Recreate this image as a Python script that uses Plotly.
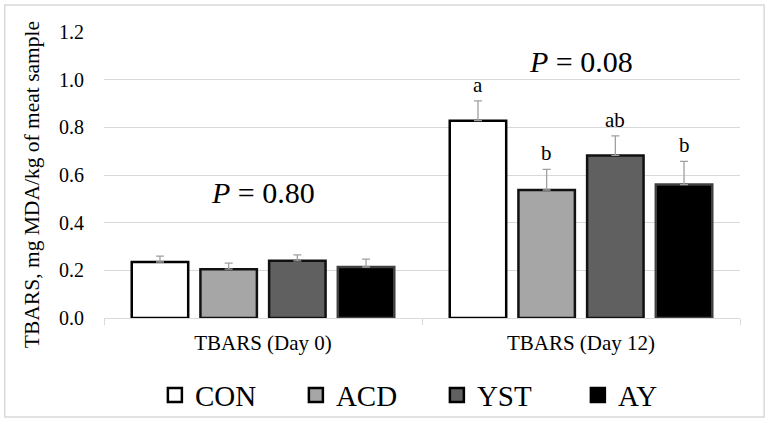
import plotly.graph_objects as go

# data
categories = ["TBARS (Day 0)", "TBARS (Day 12)"]
groups = ["CON", "ACD", "YST", "AY"]
con = [0.235, 0.828]
acd = [0.205, 0.537]
yst = [0.240, 0.682]
ay = [0.214, 0.560]
con_err = [0.025, 0.083]
acd_err = [0.025, 0.087]
yst_err = [0.025, 0.082]
ay_err = [0.033, 0.097]
letters_day12 = ["a", "b", "ab", "b"]
p_values = ["0.80", "0.08"]
p_heights = [0.525, 1.075]

values = [con, acd, yst, ay]
errors = [con_err, acd_err, yst_err, ay_err]
fills = ["#ffffff", "#a6a6a6", "#606060", "#000000"]
outlines = ["#000000", "#111111", "#111111", "#404040"]

FONT = "Liberation Serif"
BARGAP = 0.136
GROUPGAP = 0.178

fig = go.Figure()
for name, vals, errs, fc, lc in zip(groups, values, errors, fills, outlines):
    fig.add_trace(go.Bar(
        name=name, x=categories, y=vals, showlegend=False,
        marker=dict(color=fc, line=dict(color=lc, width=2.5)),
        error_y=dict(type="data", array=errs, arrayminus=[0] * len(errs),
                     symmetric=False, visible=True,
                     color="#a0a0a0", thickness=1.3, width=4),
    ))
# legend entries with larger square keys
for name, fc in zip(groups, fills):
    fig.add_trace(go.Scatter(
        name=name, x=[None], y=[None], mode="markers",
        marker=dict(symbol="square", size=14, color=fc,
                    line=dict(color="#000000", width=2.5)),
    ))

# significance letters above the Day 12 error bars
slot = (1 - BARGAP) / len(groups)
for i, lab in enumerate(letters_day12):
    fig.add_annotation(
        x=1 + (i - 1.5) * slot, y=values[i][1] + errors[i][1],
        xref="x", yref="y", text=lab, showarrow=False,
        yanchor="bottom", yshift=2,
        font=dict(family=FONT, size=21, color="#000000"),
    )

# P-value labels
for j, (p, h) in enumerate(zip(p_values, p_heights)):
    fig.add_annotation(
        x=j, y=h, xref="x", yref="y", text="<i>P</i> = " + p,
        showarrow=False, font=dict(family=FONT, size=30, color="#000000"),
    )

# y-axis title
fig.add_annotation(
    x=-0.113, y=0.465, xref="paper", yref="paper",
    xanchor="center", yanchor="middle",
    text="TBARS, mg MDA/kg of meat sample", textangle=-90,
    showarrow=False, font=dict(family=FONT, size=21.5, color="#000000"),
)

# light frame around the whole chart
fig.add_shape(type="rect", xref="paper", yref="paper",
              x0=-0.156, x1=1.038, y0=-0.346, y1=1.094,
              line=dict(color="#d9d9d9", width=1.5), layer="below")

fig.update_layout(
    width=768, height=424,
    margin=dict(l=104, r=28, t=32, b=106, autoexpand=False),
    paper_bgcolor="white", plot_bgcolor="white",
    barmode="group", bargap=BARGAP, bargroupgap=GROUPGAP,
    font=dict(family=FONT, color="#000000"),
    showlegend=True,
    legend=dict(orientation="h", x=0.08, xanchor="left",
                y=-0.27, yanchor="middle", bgcolor="rgba(0,0,0,0)",
                font=dict(family=FONT, size=29),
                entrywidth=96, entrywidthmode="pixels",
                itemwidth=30),
    xaxis=dict(
        showline=True, linecolor="#d9d9d9", linewidth=1.2,
        ticks="outside", tickson="boundaries", ticklen=6,
        tickcolor="#d9d9d9", ticklabelstandoff=6,
        tickfont=dict(family=FONT, size=21),
    ),
    yaxis=dict(
        range=[0, 1.2], dtick=0.2, tickformat=".1f",
        showgrid=True, gridcolor="#d9d9d9", gridwidth=1.2,
        zeroline=False, showline=False,
        tickfont=dict(family=FONT, size=20),
        ticklabelstandoff=19,
    ),
)

# drop the default page margin so the chart sits at the window's corner
fig.write_html("out.html", config={"displayModeBar": False},
               post_script="document.body.style.margin='0';")
